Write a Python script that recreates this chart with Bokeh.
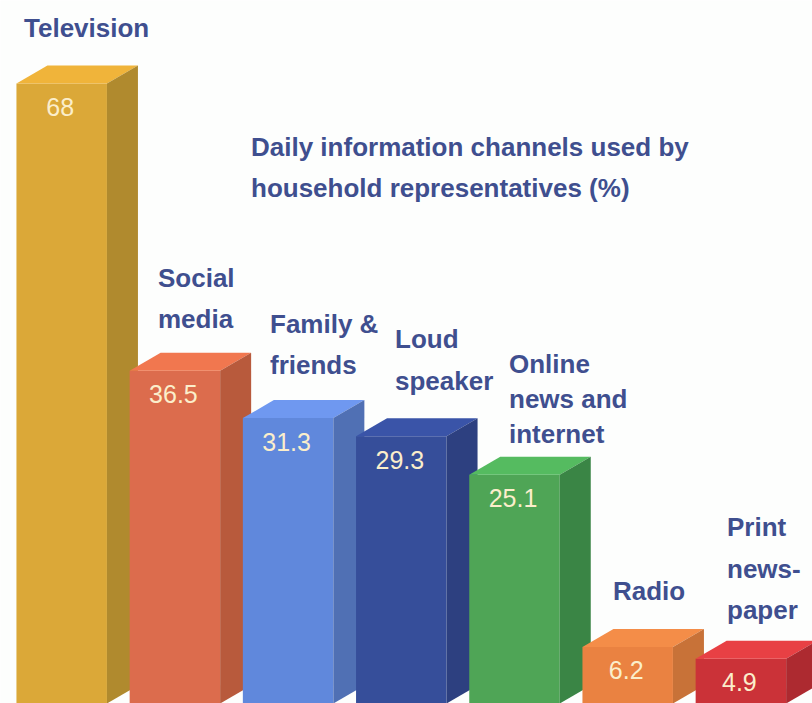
from bokeh.embed import file_html
from bokeh.models import Range1d
from bokeh.plotting import figure
from bokeh.resources import INLINE
from bokeh.core.properties import value

categories = ["Television", "Social media", "Family & friends", "Loud speaker",
              "Online news and internet", "Radio", "Print newspaper"]
values = [68, 36.5, 31.3, 29.3, 25.1, 6.2, 4.9]
value_labels = ["68", "36.5", "31.3", "29.3", "25.1", "6.2", "4.9"]
label_lines = [["Television"], ["Social", "media"], ["Family &", "friends"], ["Loud", "speaker"],
               ["Online", "news and", "internet"], ["Radio"], ["Print", "news-", "paper"]]
front_colors = ["#dba838", "#dc6c4d", "#6088dc", "#364e9a", "#4fa556", "#ea8241", "#cb3238"]
top_colors = ["#f0b43a", "#f1774f", "#6f98f0", "#3a54a8", "#55bb60", "#f48d48", "#e84044"]
side_colors = ["#b08a2e", "#b85a3c", "#5070b4", "#2d4080", "#3a8545", "#c87238", "#ad2a30"]
title_lines = ["Daily information channels used by", "household representatives (%)"]

W, H = 812, 703
PX_PER_UNIT = 9.118     # vertical pixels per percentage point
STEP = 113.2            # horizontal pixels between bars
FIRST_CENTER = 61.2
BAR_W = 90.5 / STEP
DEPTH_X = 31 / STEP
DEPTH_Y = 18 / PX_PER_UNIT
INK = "#3f4f8f"
FONT = value("Liberation Sans")

# Pixel position of the first line of each category label, and the spacing of its lines
label_x = [23.5, 157.5, 269.5, 394.5, 508.5, 612.5, 726.5]
label_y = [27.5, 277.5, 323.5, 338.5, 363.5, 590.5, 526.5]
line_gap = [0, 41, 41, 42, 35, 0, 41.5]

def dx(px):
    return (px - FIRST_CENTER) / STEP

def dy(py):
    return (H - py) / PX_PER_UNIT

p = figure(width=W, height=H, output_backend="svg", toolbar_location=None,
           x_range=Range1d(dx(0), dx(W)), y_range=Range1d(0, H / PX_PER_UNIT),
           x_axis_location=None, y_axis_location=None,
           background_fill_color="#fdfefd", border_fill_color="#fdfefd",
           outline_line_color=None, min_border=0)
p.grid.visible = False

for i, v in enumerate(values):
    left, right = i - BAR_W / 2, i + BAR_W / 2
    p.quad(left=[left], right=[right], bottom=[0], top=[v],
           fill_color=front_colors[i], line_color=None)
    p.patch([left, right, right + DEPTH_X, left + DEPTH_X], [v, v, v + DEPTH_Y, v + DEPTH_Y],
            fill_color=top_colors[i], line_color=None)
    p.patch([right, right + DEPTH_X, right + DEPTH_X, right], [0, DEPTH_Y, v + DEPTH_Y, v],
            fill_color=side_colors[i], line_color=None)

# Value printed a fixed distance under the front edge of each bar
p.text(x=[i - 1.5 / STEP for i in range(len(values))],
       y=[v - 23.5 / PX_PER_UNIT for v in values],
       text=value_labels, text_color="#fbeecb", text_font=FONT, text_font_size="25px",
       text_align="center", text_baseline="middle")

xs, ys, texts = [], [], []
for i, lines in enumerate(label_lines):
    for j, line in enumerate(lines):
        xs.append(dx(label_x[i]))
        ys.append(dy(label_y[i] + j * line_gap[i]))
        texts.append(line)
p.text(x=xs, y=ys, text=texts, text_color=INK, text_font=FONT, text_font_size="26px",
       text_font_style="bold", text_align="left", text_baseline="middle")

p.text(x=[dx(250.5), dx(250.5)], y=[dy(146.5), dy(187.5)], text=title_lines, text_color=INK,
       text_font=FONT, text_font_size="26px", text_font_style="bold",
       text_align="left", text_baseline="middle")

open("out.html", "w").write(file_html(p, INLINE))
